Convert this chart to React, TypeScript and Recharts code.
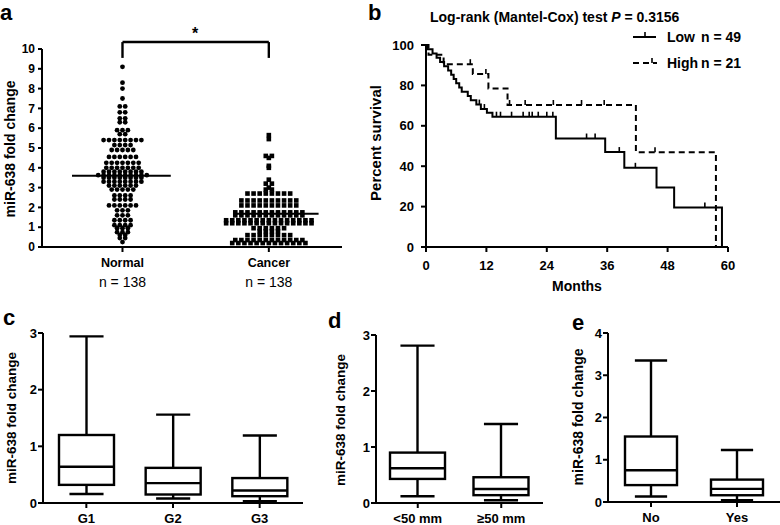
import React from 'react';
import {
  ScatterChart,
  Scatter,
  LineChart,
  Line,
  BarChart,
  Bar,
  XAxis,
  YAxis,
  ReferenceLine,
} from 'recharts';

const FONT = '"Liberation Sans", Arial, Helvetica, sans-serif';
const INK = '#000';

// ---- a: miR-638 fold change, normal vs cancer ----
const groupNames = ['Normal', 'Cancer'];
const groupCounts = ['n = 138', 'n = 138'];
const groupMeans = [3.6, 1.68];

const normalFold = [
  9.1, 8.3, 8.0, 7.5, 7.1, 7.1, 6.8, 6.8, 6.5, 6.5, 6.3, 6.3,
  5.9, 5.9, 5.9, 5.7, 5.7,
  5.4, 5.4, 5.4, 5.4, 5.4, 5.4, 5.4, 5.4,
  5.15, 5.15, 5.15, 5.15,
  4.9, 4.9, 4.9, 4.9, 4.9,
  4.55, 4.55, 4.55, 4.55, 4.55, 4.55,
  4.25, 4.25, 4.25, 4.25, 4.25, 4.25, 4.25,
  4.0, 4.0, 4.0, 4.0, 4.0, 4.0, 4.0,
  3.8, 3.8, 3.8, 3.8, 3.8, 3.8, 3.8, 3.8,
  3.63, 3.63, 3.63, 3.63, 3.63, 3.63, 3.63, 3.63, 3.63, 3.63,
  3.5, 3.5, 3.5, 3.5, 3.5, 3.5, 3.5, 3.5,
  3.3, 3.3, 3.3, 3.3, 3.3, 3.3, 3.3, 3.3,
  3.1, 3.1, 3.1, 3.1, 3.1, 3.1,
  2.9, 2.9, 2.9, 2.9, 2.9,
  2.6, 2.6, 2.6, 2.6,
  2.4, 2.4, 2.4, 2.4,
  2.1, 2.1, 2.1, 2.1, 2.1, 2.1,
  1.85, 1.85, 1.85, 1.6, 1.6, 1.6, 1.35, 1.35, 1.35, 1.35,
  1.1, 1.1, 1.1, 1.1, 0.95, 0.95, 0.95, 0.75, 0.75, 0.75,
  0.6, 0.6, 0.45, 0.45, 0.25,
];

const cancerFold = [
  5.65, 5.45, 4.6, 4.6, 4.5, 4.1, 4.0, 3.4, 3.2, 3.2, 3.0, 2.9, 2.9,
  2.7, 2.7, 2.7, 2.7, 2.7, 2.7, 2.7, 2.7,
  2.35, 2.35, 2.35, 2.35, 2.35, 2.35, 2.35, 2.35, 2.35, 2.35,
  2.1, 2.1, 2.1, 2.1, 2.1, 2.1, 2.1, 2.1, 2.1, 2.1,
  1.75, 1.75, 1.75, 1.75, 1.75, 1.75, 1.75, 1.75, 1.75, 1.75, 1.75, 1.75,
  1.6, 1.6, 1.6, 1.6, 1.6, 1.6, 1.6, 1.6, 1.6, 1.6, 1.6, 1.6,
  1.35, 1.35, 1.35, 1.35, 1.35, 1.35, 1.35, 1.35, 1.35, 1.35, 1.35, 1.35, 1.35, 1.35, 1.35,
  1.2, 1.2, 1.2, 1.2, 1.2, 1.2, 1.2, 1.2, 1.2, 1.2, 1.2, 1.2, 1.2, 1.2, 1.2,
  0.95, 0.95, 0.95, 0.95, 0.95, 0.95,
  0.8, 0.8, 0.8, 0.8,
  0.6, 0.6, 0.6, 0.6, 0.6, 0.6, 0.6, 0.6,
  0.35, 0.35, 0.35, 0.35, 0.35, 0.35, 0.35, 0.35, 0.35, 0.35, 0.35, 0.35,
  0.2, 0.2, 0.2, 0.2, 0.2, 0.2, 0.2, 0.2, 0.2, 0.2, 0.2, 0.2, 0.2,
];
const foldTicks = [0, 1, 2, 3, 4, 5, 6, 7, 8, 9, 10];

// ---- b: survival, low vs high expression ----
const lowSteps = [
  [0, 100], [0.3, 97.9], [1.3, 95.8], [2.1, 93.7], [2.8, 91.6], [3.6, 89.5],
  [4.4, 87.4], [5, 85.3], [5.5, 83.2], [6, 81.1], [6.6, 79], [7.1, 76.9],
  [8.3, 74.8], [8.9, 72.6], [10, 70.5], [10.9, 68.3], [12.1, 66.5], [13.2, 64.5],
  [25.8, 53.7], [35.6, 47], [39.4, 39.2], [45.8, 29.4], [49.3, 19.6], [58.8, 0],
];
const lowCensored = [10.6, 11.6, 14, 14.8, 17, 19.3, 20.5, 21.1, 22.3, 24, 25.2, 31.9, 33.6, 38.4, 41.6, 55.4];
const highSteps = [
  [0, 100], [0.5, 95.2], [3.5, 90.5], [9.3, 85.7], [12.4, 78.5], [16.2, 70.3], [41.7, 46.9], [57.6, 0],
];
const highCensored = [8.8, 11.9, 16.6, 19.7, 25.3, 30.9, 35.4, 45.5];
const monthTicks = [0, 12, 24, 36, 48, 60];
const survivalTicks = [0, 20, 40, 60, 80, 100];

// ---- c: grade ----
const gradeNames = ['G1', 'G2', 'G3'];
const gradeMin = [0.16, 0.08, 0.03];
const gradeQ1 = [0.32, 0.15, 0.12];
const gradeMedian = [0.64, 0.35, 0.22];
const gradeQ3 = [1.2, 0.62, 0.44];
const gradeMax = [2.94, 1.56, 1.19];

// ---- d: tumour size ----
const sizeNames = ['<50 mm', '\u226550 mm'];
const sizeMin = [0.12, 0.05];
const sizeQ1 = [0.43, 0.14];
const sizeMedian = [0.62, 0.25];
const sizeQ3 = [0.9, 0.46];
const sizeMax = [2.81, 1.41];

// ---- e: metastasis ----
const metaNames = ['No', 'Yes'];
const metaMin = [0.13, 0.04];
const metaQ1 = [0.4, 0.16];
const metaMedian = [0.75, 0.31];
const metaQ3 = [1.55, 0.53];
const metaMax = [3.35, 1.23];

// panel a x scale (px per unit), only used to space the dot rows
const A_XDOMAIN = [0.45, 2.5];
const A_XPX = 300 / (A_XDOMAIN[1] - A_XDOMAIN[0]);

// rows of equal values are laid side by side, centred on the group
function dotRows(values: number[], center: number, stepPx: number) {
  const count = new Map<number, number>();
  values.forEach((v) => count.set(v, (count.get(v) || 0) + 1));
  const seen = new Map<number, number>();
  return values.map((v) => {
    const n = count.get(v) || 1;
    const i = seen.get(v) || 0;
    seen.set(v, i + 1);
    return { x: center + ((i - (n - 1) / 2) * stepPx) / A_XPX, y: v };
  });
}

const normalPts = dotRows(normalFold, 1, 5.4);
const cancerPts = dotRows(cancerFold, 2, 6.1);

function kmSeries(steps: number[][], censored: number[]) {
  const pts = steps.map(([t, s]) => ({ t, s, c: false }));
  censored.forEach((t) => {
    let s = 100;
    steps.forEach(([tt, ss]) => {
      if (tt <= t) s = ss;
    });
    pts.push({ t, s, c: true });
  });
  return pts.sort((a, b) => a.t - b.t);
}

const lowSeries = kmSeries(lowSteps, lowCensored);
const highSeries = kmSeries(highSteps, highCensored);

function boxRows(names: string[], min: number[], q1: number[], med: number[], q3: number[], max: number[]) {
  return names.map((name, i) => ({ name, min: min[i], q1: q1[i], median: med[i], q3: q3[i], max: max[i] }));
}

const gradeRows = boxRows(gradeNames, gradeMin, gradeQ1, gradeMedian, gradeQ3, gradeMax);
const sizeRows = boxRows(sizeNames, sizeMin, sizeQ1, sizeMedian, sizeQ3, sizeMax);
const metaRows = boxRows(metaNames, metaMin, metaQ1, metaMedian, metaQ3, metaMax);

const axisLine = { stroke: INK, strokeWidth: 2 };
const tickFont = (size: number) => ({ fill: INK, fontSize: size, fontWeight: 700, fontFamily: FONT });

const BoxShape = (props: any) => {
  const { x, y, width, height, payload } = props;
  const ppu = height / payload.max;
  const base = y + height;
  const py = (v: number) => base - v * ppu;
  const cx = x + width / 2;
  const cap = width * 0.62;
  return (
    <g stroke={INK} strokeWidth={2.4} fill="none">
      <line x1={cx} x2={cx} y1={py(payload.max)} y2={py(payload.q3)} />
      <line x1={cx - cap / 2} x2={cx + cap / 2} y1={py(payload.max)} y2={py(payload.max)} />
      <rect x={x} y={py(payload.q3)} width={width} height={py(payload.q1) - py(payload.q3)} fill="#fff" />
      <line x1={x} x2={x + width} y1={py(payload.median)} y2={py(payload.median)} />
      <line x1={cx} x2={cx} y1={py(payload.q1)} y2={py(payload.min)} />
      <line x1={cx - cap / 2} x2={cx + cap / 2} y1={py(payload.min)} y2={py(payload.min)} />
    </g>
  );
};

const GroupTick = (p: any) => {
  const i = p.payload.value === 1 ? 0 : 1;
  return (
    <g>
      <text x={p.x} y={p.y + 13} textAnchor="middle" fill={INK} fontFamily={FONT} fontWeight={700} fontSize={12.5}>
        {groupNames[i]}
      </text>
      <text x={p.x} y={p.y + 33} textAnchor="middle" fill={INK} fontFamily={FONT} fontSize={14}>
        {groupCounts[i]}
      </text>
    </g>
  );
};

const CensorDot = (p: any) => {
  if (!p.payload || !p.payload.c) return <g key={`n-${p.index}`} />;
  return (
    <line key={`c-${p.index}`} x1={p.cx} x2={p.cx} y1={p.cy} y2={p.cy - 5} stroke={INK} strokeWidth={1.6} />
  );
};

const BoxPanel = ({ rows, yMax, left, top, width, yWidth, marginTop, bottom, barSize }: any) => {
  const ticks = [];
  for (let t = 0; t <= yMax; t++) ticks.push(t);
  return (
    <div style={{ position: 'absolute', left, top }}>
      <BarChart width={width} height={225} data={rows} margin={{ top: marginTop, right: 0, bottom: bottom - 20, left: 0 }}>
        <XAxis
          dataKey="name"
          interval={0}
          height={20}
          axisLine={axisLine}
          tickLine={axisLine}
          tickSize={5}
          tickMargin={6}
          tick={tickFont(13)}
        />
        <YAxis
          type="number"
          domain={[0, yMax]}
          ticks={ticks}
          interval={0}
          width={yWidth}
          axisLine={axisLine}
          tickLine={axisLine}
          tickSize={5}
          tickMargin={1}
          tick={tickFont(13)}
        />
        <Bar dataKey="max" barSize={barSize} shape={BoxShape} isAnimationActive={false} />
      </BarChart>
    </div>
  );
};

const textStyle = { fill: INK, fontFamily: FONT, fontWeight: 700 } as const;

export default function App() {
  return (
    <div style={{ position: 'absolute', left: 0, top: 0, width: 780, height: 525, background: '#fff', fontFamily: FONT }}>
      {/* a */}
      <div style={{ position: 'absolute', left: 0, top: 0 }}>
        <ScatterChart width={390} height={300} margin={{ top: 49, right: 48, bottom: 8, left: 0 }}>
          <XAxis
            type="number"
            dataKey="x"
            domain={A_XDOMAIN}
            ticks={[1, 2]}
            height={45}
            axisLine={axisLine}
            tickLine={axisLine}
            tickSize={5}
            tickMargin={2}
            tick={<GroupTick />}
          />
          <YAxis
            type="number"
            dataKey="y"
            domain={[0, 10]}
            ticks={foldTicks}
            interval={0}
            width={42}
            axisLine={axisLine}
            tickLine={axisLine}
            tickSize={4}
            tickMargin={3}
            tick={tickFont(12)}
          />
          <Scatter
            data={normalPts}
            isAnimationActive={false}
            shape={(p: any) => <circle cx={p.cx} cy={p.cy} r={2.4} fill={INK} />}
          />
          <Scatter
            data={cancerPts}
            isAnimationActive={false}
            shape={(p: any) => <rect x={p.cx - 2.3} y={p.cy - 2.3} width={4.6} height={4.6} fill={INK} />}
          />
          <ReferenceLine segment={[{ x: 0.655, y: groupMeans[0] }, { x: 1.33, y: groupMeans[0] }]} stroke={INK} strokeWidth={2} />
          <ReferenceLine segment={[{ x: 1.77, y: groupMeans[1] }, { x: 2.34, y: groupMeans[1] }]} stroke={INK} strokeWidth={2} />
          <ReferenceLine segment={[{ x: 1, y: 10.35 }, { x: 2, y: 10.35 }]} stroke={INK} strokeWidth={2.4} ifOverflow="visible" />
          <ReferenceLine segment={[{ x: 1, y: 10.35 }, { x: 1, y: 9.55 }]} stroke={INK} strokeWidth={2.4} ifOverflow="visible" />
          <ReferenceLine segment={[{ x: 2, y: 10.35 }, { x: 2, y: 9.55 }]} stroke={INK} strokeWidth={2.4} ifOverflow="visible" />
        </ScatterChart>
      </div>

      {/* b */}
      <div style={{ position: 'absolute', left: 390, top: 0 }}>
        <LineChart width={390} height={300} margin={{ top: 45, right: 52, bottom: 23, left: 0 }}>
          <XAxis
            type="number"
            dataKey="t"
            domain={[0, 60]}
            ticks={monthTicks}
            interval={0}
            height={30}
            axisLine={axisLine}
            tickLine={axisLine}
            tickSize={5}
            tickMargin={9}
            tick={tickFont(13)}
          />
          <YAxis
            type="number"
            domain={[0, 100]}
            ticks={survivalTicks}
            interval={0}
            width={36}
            axisLine={axisLine}
            tickLine={axisLine}
            tickSize={5}
            tickMargin={7}
            tick={tickFont(13)}
          />
          <Line
            data={lowSeries}
            dataKey="s"
            type="stepAfter"
            stroke={INK}
            strokeWidth={2}
            dot={CensorDot}
            activeDot={false}
            isAnimationActive={false}
          />
          <Line
            data={highSeries}
            dataKey="s"
            type="stepAfter"
            stroke={INK}
            strokeWidth={2}
            strokeDasharray="6 4"
            dot={CensorDot}
            activeDot={false}
            isAnimationActive={false}
          />
        </LineChart>
      </div>

      {/* c, d, e */}
      <BoxPanel rows={gradeRows} yMax={3} left={0} top={300} width={303} yWidth={43} marginTop={33} bottom={22} barSize={55} />
      <BoxPanel rows={sizeRows} yMax={3} left={330} top={300} width={213} yWidth={46} marginTop={35} bottom={22} barSize={55} />
      <BoxPanel rows={metaRows} yMax={4} left={565} top={300} width={215} yWidth={43} marginTop={33} bottom={23} barSize={52} />

      {/* titles, labels, legend */}
      <svg width={780} height={525} style={{ position: 'absolute', left: 0, top: 0, pointerEvents: 'none' }}>
        <text x={0} y={20} fontSize={22} {...textStyle}>a</text>
        <text x={368} y={20} fontSize={22} {...textStyle}>b</text>
        <text x={3} y={325} fontSize={22} {...textStyle}>c</text>
        <text x={328} y={328} fontSize={22} {...textStyle}>d</text>
        <text x={572} y={330} fontSize={22} {...textStyle}>e</text>

        <text x={195} y={39} fontSize={16} textAnchor="middle" {...textStyle}>*</text>

        <text transform="translate(15,149) rotate(-90)" fontSize={14} textAnchor="middle" {...textStyle}>miR-638 fold change</text>
        <text transform="translate(381,143) rotate(-90)" fontSize={15} textAnchor="middle" {...textStyle}>Percent survival</text>
        <text transform="translate(16,418) rotate(-90)" fontSize={13.5} textAnchor="middle" {...textStyle}>miR-638 fold change</text>
        <text transform="translate(345,420) rotate(-90)" fontSize={13.5} textAnchor="middle" {...textStyle}>miR-638 fold change</text>
        <text transform="translate(583,417) rotate(-90)" fontSize={14} textAnchor="middle" {...textStyle}>miR-638 fold change</text>

        <text x={430} y={22} fontSize={14} {...textStyle}>
          Log-rank (Mantel-Cox) test <tspan fontStyle="italic">P</tspan> = 0.3156
        </text>
        <text x={577} y={291} fontSize={14} textAnchor="middle" {...textStyle}>Months</text>

        <line x1={633} x2={656} y1={37} y2={37} stroke={INK} strokeWidth={2} />
        <line x1={645} x2={645} y1={37} y2={32} stroke={INK} strokeWidth={1.6} />
        <text x={667} y={42} fontSize={14} {...textStyle}>Low</text>
        <text x={701} y={42} fontSize={14} {...textStyle}>n = 49</text>

        <line x1={633} x2={657} y1={63} y2={63} stroke={INK} strokeWidth={2} strokeDasharray="6 4" />
        <line x1={652} x2={652} y1={63} y2={58} stroke={INK} strokeWidth={1.6} />
        <text x={667} y={68} fontSize={14} {...textStyle}>High</text>
        <text x={701} y={68} fontSize={14} {...textStyle}>n = 21</text>
      </svg>
    </div>
  );
}
